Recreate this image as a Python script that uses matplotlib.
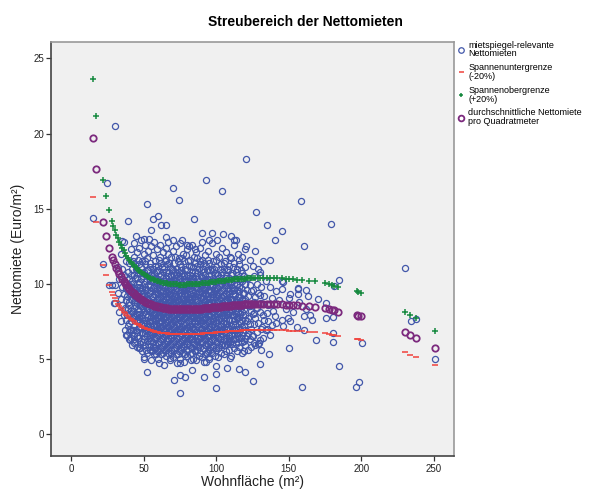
import matplotlib
matplotlib.use("Agg")
import matplotlib.pyplot as plt

# --- data ---

# areas (m²) that have a mean value, and the mean rent per m² at each
mean_area = [15, 17, 22, 24, 26, 28, 29, 30, 31, 32, 33, 34, 35, 36, 37, 38, 39,
             40, 41, 42, 43, 44, 45, 46, 47, 48, 49, 50, 51, 52, 53, 54, 55, 56,
             57, 58, 59, 60, 61, 62, 63, 64, 65, 66, 67, 68, 69, 70, 71, 72, 73,
             74, 75, 76, 77, 78, 79, 80, 81, 82, 83, 84, 85, 86, 87, 88, 89, 90,
             91, 92, 93, 94, 95, 96, 97, 98, 99, 100, 101, 102, 103, 104, 105,
             106, 107, 108, 109, 110, 111, 112, 113, 114, 115, 116, 117, 118,
             119, 120, 121, 122, 123, 124, 125, 127, 129, 130, 132, 135, 137,
             140, 142, 145, 148, 150, 153, 156, 159, 164, 168, 175, 178, 180,
             181, 184, 197, 198, 200, 230, 234, 238, 251]
mean_rent = [19.7, 17.65, 14.1, 13.2, 12.4, 11.8, 11.55, 11.3, 11.05, 10.85,
             10.65, 10.5, 10.33, 10.18, 10.04, 9.9, 9.78, 9.66, 9.55, 9.45, 9.36,
             9.27, 9.19, 9.11, 9.04, 8.97, 8.91, 8.85, 8.8, 8.75, 8.7, 8.66, 8.62,
             8.58, 8.55, 8.52, 8.49, 8.46, 8.44, 8.42, 8.4, 8.38, 8.37, 8.36, 8.34,
             8.33, 8.32, 8.31, 8.31, 8.3, 8.3, 8.29, 8.29, 8.29, 8.29, 8.29, 8.29,
             8.3, 8.3, 8.3, 8.31, 8.31, 8.32, 8.32, 8.33, 8.34, 8.34, 8.35, 8.36,
             8.37, 8.38, 8.39, 8.4, 8.41, 8.42, 8.43, 8.44, 8.45, 8.46, 8.47, 8.48,
             8.49, 8.5, 8.51, 8.52, 8.53, 8.54, 8.55, 8.56, 8.57, 8.57, 8.58, 8.59,
             8.6, 8.6, 8.61, 8.62, 8.62, 8.63, 8.63, 8.64, 8.64, 8.65, 8.65, 8.66,
             8.66, 8.66, 8.66, 8.66, 8.65, 8.64, 8.63, 8.61, 8.6, 8.58, 8.56, 8.54,
             8.5, 8.46, 8.38, 8.3, 8.26, 8.22, 8.15, 7.92, 7.88, 7.83, 6.78, 6.6,
             6.42, 5.72]

# single flats away from the dense cloud
outer_area = [15.2, 21.8, 24.4, 30.3, 25.7, 29.2, 35, 39.1, 44.4, 50.3, 53.3,
              52.2, 55.2, 56.3, 60, 61.9, 65.5, 65, 66.7, 70.1, 70, 74, 76.6,
              79.8, 81.4, 84.4, 85.3, 90.3, 90.3, 93.1, 94.7, 97.2, 100.5, 104.1,
              104.4, 110.1, 112.4, 113.3, 120.2, 120.2, 127.1, 135, 137.2, 130.3,
              140.2, 145.3, 158.4, 160.2, 179.3, 230.3, 184.4, 145.3, 156.3,
              180.9, 130.3, 138.4, 145.3, 156.3, 156.3, 163.2, 150.3, 175.4,
              180.5, 175.9, 164.4, 160.2, 149.4, 145.3, 140.7, 135, 125.7, 138.4,
              155.6, 160.2, 131.5, 135, 124.6, 130.3, 129.7, 125.7, 131, 136.6,
              150.3, 168.5, 180.5, 180.5, 200.5, 234.5, 237.7, 250.6, 184.8,
              130.3, 125.3, 159.1, 196.3, 198.4, 75.2, 100, 52.2, 70.6, 74.7,
              78.6, 83.2, 91.3, 100, 107.4, 115.4, 120, 100, 49.9, 60.2, 68.3,
              75.2, 82.5, 91.3, 94.7, 109.7, 118.8, 55.6, 38.4, 40.2, 43, 47.6]
outer_rent = [14.4, 11.3, 16.7, 20.5, 9.93, 8.71, 12.85, 14.2, 13.2, 13.0, 13.0,
              15.3, 13.6, 14.3, 14.5, 13.9, 13.9, 13.1, 12.75, 16.4, 12.9, 15.6,
              12.9, 12.6, 12.5, 14.3, 12.3, 13.35, 12.75, 16.9, 12.9, 13.4, 12.9,
              16.2, 13.3, 13.2, 12.9, 12.9, 18.3, 12.5, 14.8, 13.9, 11.6, 10.8,
              12.9, 13.5, 15.5, 12.5, 14.0, 11.07, 10.27, 10.15, 9.7, 9.87, 9.27,
              9.04, 9.64, 9.64, 9.3, 9.2, 9.04, 8.75, 7.8, 7.7, 7.93, 7.87, 7.7,
              7.6, 7.87, 8.04, 8.04, 7.27, 7.1, 6.9, 7.1, 7.0, 6.5, 6.27, 6.04,
              6.04, 5.6, 5.33, 5.73, 6.27, 6.7, 6.15, 6.04, 7.55, 7.64, 5.02,
              4.53, 4.64, 3.53, 3.13, 3.11, 3.44, 2.71, 3.04, 4.15, 3.6, 3.93,
              3.82, 4.27, 3.78, 4.0, 4.38, 4.31, 4.15, 4.53, 4.98, 4.7, 5.04,
              4.7, 4.93, 4.82, 5.1, 5.04, 5.49, 5.6, 6.6, 6.27, 6.04, 5.71]

# dense cloud: area -> rents observed at that area (estimated)
core_columns = [
    (28, [9.9]), (30, [8.7, 9.9]), (32, [9.4, 11.1]), (33, [8.1, 10.3]),
    (34, [7.5, 9.0, 12.0]), (35, [8.6, 9.8, 11.0]), (36, [7.9, 9.3, 10.6, 12.8]),
    (37, [6.9, 8.4, 10.1]), (38, [6.6, 7.6, 8.9, 9.7, 11.5]),
    (39, [7.2, 8.3, 9.5, 10.8]),
    (40, [6.3, 7.4, 8.6, 9.9, 11.4]), (41, [6.9, 8.2, 9.3, 10.6, 12.3]),
    (42, [5.9, 7.7, 8.9, 10.2, 11.0]), (43, [6.6, 7.2, 8.4, 9.6, 11.8, 12.7]),
    (44, [6.1, 7.9, 9.1, 10.4, 11.3]), (45, [5.8, 6.8, 8.0, 8.7, 9.8, 10.9, 12.1]),
    (46, [6.4, 7.5, 8.3, 9.4, 10.7, 11.6]), (47, [5.7, 7.0, 7.8, 9.0, 10.1, 12.4]),
    (48, [6.2, 7.3, 8.5, 9.5, 10.3, 11.1, 12.9]), (49, [5.5, 6.7, 7.7, 8.8, 9.7, 11.5]),
    (50, [5.1, 6.3, 7.2, 8.1, 9.2, 10.0, 10.8, 12.0]),
    (51, [5.9, 6.9, 7.6, 8.6, 9.6, 11.3, 12.6]),
    (52, [5.4, 6.5, 7.4, 8.3, 9.0, 10.5, 11.7]),
    (53, [6.0, 7.1, 7.9, 8.9, 9.9, 10.9, 12.2]),
    (54, [5.6, 6.6, 7.5, 8.2, 9.4, 10.2, 11.4]),
    (55, [4.9, 6.2, 7.0, 7.8, 8.7, 9.5, 10.6, 12.5]),
    (56, [5.8, 6.8, 7.7, 8.5, 9.1, 10.1, 11.0, 11.9]),
    (57, [5.3, 6.4, 7.3, 8.0, 8.8, 9.8, 10.7, 12.8]),
    (58, [6.0, 6.9, 7.6, 8.4, 9.3, 10.4, 11.5]),
    (59, [5.5, 6.6, 7.2, 8.1, 9.0, 9.7, 10.9, 12.3]),
    (60, [5.0, 6.1, 7.0, 7.9, 8.6, 9.4, 10.3, 11.2]),
    (61, [5.7, 6.7, 7.5, 8.3, 9.2, 10.0, 11.8, 12.6]),
    (62, [5.3, 6.3, 7.1, 7.8, 8.7, 9.6, 10.6, 11.4]),
    (63, [5.9, 6.9, 7.7, 8.5, 9.0, 9.9, 10.8, 12.1]),
    (64, [4.6, 5.6, 6.5, 7.3, 8.2, 8.9, 9.7, 11.0]),
    (65, [5.2, 6.2, 7.0, 7.8, 8.6, 9.5, 10.4, 11.6, 12.4]),
    (66, [5.8, 6.7, 7.5, 8.3, 9.1, 10.1, 11.3]),
    (67, [5.4, 6.4, 7.2, 8.0, 8.8, 9.8, 10.7, 12.0]),
    (68, [4.9, 6.0, 6.9, 7.7, 8.5, 9.3, 10.2, 11.1]),
    (69, [5.6, 6.6, 7.4, 8.1, 8.9, 9.6, 10.5, 11.8]),
    (70, [5.1, 6.2, 7.1, 7.9, 8.7, 9.4, 10.0, 10.9, 12.2]),
    (71, [5.7, 6.8, 7.6, 8.4, 9.2, 10.3, 11.4]),
    (72, [5.3, 6.4, 7.3, 8.1, 8.8, 9.7, 10.6, 12.5]),
    (73, [4.7, 5.9, 6.9, 7.7, 8.5, 9.1, 10.1, 11.0]),
    (74, [5.5, 6.5, 7.2, 8.0, 8.9, 9.9, 10.8, 11.7]),
    (75, [5.0, 6.1, 7.0, 7.8, 8.6, 9.4, 10.4, 11.3, 12.7]),
    (76, [5.8, 6.7, 7.5, 8.3, 9.2, 10.0, 11.1]),
    (77, [5.4, 6.3, 7.3, 8.2, 9.0, 9.8, 10.7, 12.0]),
    (78, [4.8, 6.0, 6.9, 7.7, 8.5, 9.5, 10.5, 11.5]),
    (79, [5.6, 6.6, 7.4, 8.1, 8.8, 9.6, 10.2, 11.9]),
    (80, [5.2, 6.2, 7.1, 7.9, 8.7, 9.3, 10.1, 10.9, 12.3]),
    (81, [5.9, 6.8, 7.6, 8.4, 9.1, 10.0, 11.2]),
    (82, [5.3, 6.4, 7.2, 8.0, 8.9, 9.7, 10.6, 11.6]),
    (83, [5.7, 6.5, 7.4, 8.2, 9.0, 9.9, 10.8, 12.6]),
    (84, [5.0, 6.1, 7.0, 7.8, 8.6, 9.4, 10.3, 11.1]),
    (85, [5.5, 6.6, 7.5, 8.3, 9.2, 10.1, 11.4]),
    (86, [4.9, 5.9, 6.8, 7.7, 8.5, 9.3, 10.5, 12.1]),
    (87, [5.6, 6.5, 7.3, 8.1, 8.9, 9.8, 10.7, 11.7]),
    (88, [5.2, 6.3, 7.1, 7.9, 8.7, 9.5, 10.2, 11.0]),
    (89, [5.8, 6.7, 7.6, 8.4, 9.1, 10.0, 11.3, 12.4]),
    (90, [5.1, 6.2, 7.0, 7.8, 8.6, 9.4, 10.4, 11.6]),
    (91, [5.7, 6.6, 7.4, 8.2, 9.0, 9.7, 10.8]),
    (92, [5.3, 6.4, 7.2, 8.0, 8.8, 9.6, 10.6, 11.9]),
    (93, [4.8, 5.9, 6.9, 7.7, 8.5, 9.3, 10.1, 11.2]),
    (94, [5.5, 6.5, 7.5, 8.3, 9.2, 10.3, 12.2]),
    (95, [5.0, 6.1, 7.1, 7.9, 8.7, 9.5, 10.5, 11.4]),
    (96, [5.8, 6.8, 7.6, 8.4, 9.0, 9.9, 10.9]),
    (97, [5.4, 6.3, 7.3, 8.1, 8.9, 9.8, 11.0, 12.7]),
    (98, [5.9, 6.7, 7.5, 8.2, 9.1, 10.2, 11.5]),
    (99, [5.2, 6.2, 7.0, 7.8, 8.6, 9.6, 10.7]),
    (100, [5.6, 6.6, 7.4, 8.3, 9.3, 10.1, 11.1, 12.0]),
    (101, [5.1, 6.4, 7.2, 8.0, 8.8, 9.7, 10.6]),
    (102, [5.8, 6.9, 7.7, 8.5, 9.4, 10.4, 11.8]),
    (103, [5.4, 6.5, 7.3, 8.2, 9.1, 10.0, 11.3]),
    (104, [6.0, 7.0, 7.9, 8.7, 9.6, 10.8, 12.4]),
    (105, [5.3, 6.3, 7.5, 8.4, 9.2, 10.2, 11.0]),
    (106, [5.9, 6.8, 7.8, 8.9, 9.9, 11.5]),
    (107, [5.5, 6.6, 7.4, 8.1, 9.4, 10.5, 12.1]),
    (108, [6.1, 7.1, 8.0, 8.8, 9.7, 10.9]),
    (109, [5.6, 6.4, 7.6, 8.6, 9.5, 11.2]),
    (110, [5.2, 6.2, 7.2, 8.3, 9.0, 10.1, 11.7]),
    (111, [6.0, 6.9, 7.9, 8.9, 9.8, 10.7]),
    (112, [5.7, 6.7, 7.5, 8.5, 9.6, 11.4, 12.6]),
    (113, [6.3, 7.3, 8.2, 9.3, 10.3]),
    (114, [5.5, 6.5, 7.7, 8.8, 9.9, 11.0]),
    (115, [6.1, 7.0, 8.1, 9.1, 10.6, 12.0]),
    (116, [5.8, 6.8, 7.8, 8.7, 9.5, 11.3]),
    (117, [6.4, 7.4, 8.4, 9.7, 10.9]),
    (118, [5.4, 6.6, 7.6, 8.9, 10.2, 11.8]),
    (119, [6.2, 7.2, 8.3, 9.4, 10.5]),
    (120, [5.9, 6.9, 7.9, 9.0, 10.0, 11.1, 12.3]),
    (121, [6.5, 7.5, 8.6, 9.6]), (122, [5.6, 6.7, 7.7, 9.2, 10.4]),
    (123, [6.3, 7.3, 8.5, 9.9, 11.6]), (124, [5.8, 7.0, 8.2, 9.5]),
    (125, [6.5, 8.0, 9.6, 11.2]), (126, [7.3, 8.8, 10.5]),
    (127, [5.9, 7.7, 9.1, 12.2]), (128, [6.8, 8.4, 10.0]),
    (129, [6.0, 7.4, 9.4, 11.0]), (130, [8.1, 10.6]), (131, [7.0, 8.7, 9.8]),
    (132, [6.4, 7.9, 11.5]), (133, [7.6, 9.2]), (134, [6.9, 10.2]),
    (136, [7.5, 8.6]), (137, [9.8, 6.6]), (139, [8.2]), (141, [7.4, 9.5]),
    (143, [8.9]), (146, [7.2, 10.1]), (148, [8.3]), (151, [9.3, 7.5]),
    (153, [8.1]), (157, [8.8]), (162, [8.3, 9.6]), (166, [7.6]), (170, [9.0]),
]

# flats with half-metre areas inside the dense cloud (estimated)
core_columns_half = [
    (38.5, [7.9, 9.2]), (39.5, [6.8, 8.8, 10.3]), (40.5, [7.0, 8.0, 9.3]),
    (41.5, [6.4, 7.5, 9.0, 10.0]), (42.5, [6.9, 8.2, 9.7, 11.5]),
    (43.5, [6.3, 7.8, 8.8, 10.6]),
    (44.5, [6.9, 8.5, 9.6, 11.0]), (45.5, [6.5, 7.6, 9.1, 10.4]),
    (46.5, [7.1, 8.0, 8.9, 10.0, 11.3]), (47.5, [6.0, 7.5, 8.6, 9.8]),
    (48.5, [6.8, 7.9, 9.2, 10.7]), (49.5, [6.1, 7.4, 8.4, 9.4, 10.5]),
    (50.5, [6.7, 7.6, 8.9, 9.8, 11.5]), (51.5, [5.6, 7.0, 8.0, 9.1, 10.2]),
    (52.5, [6.2, 7.8, 8.7, 9.6, 10.9]), (53.5, [5.8, 6.7, 7.5, 8.4, 9.4, 10.4]),
    (54.5, [6.4, 7.2, 8.6, 9.9, 11.1]), (55.5, [5.5, 6.6, 7.5, 8.3, 9.2, 10.2]),
    (56.5, [6.1, 7.2, 8.0, 8.9, 9.7, 10.5]), (57.5, [5.7, 6.8, 7.7, 8.6, 9.5, 11.2]),
    (58.5, [5.3, 6.4, 7.3, 8.0, 8.8, 9.9, 10.8]),
    (59.5, [6.0, 6.9, 7.7, 8.5, 9.3, 10.2]),
    (60.5, [5.5, 6.6, 7.4, 8.2, 9.0, 9.8, 11.6]),
    (61.5, [6.2, 7.1, 7.9, 8.7, 9.5, 10.5]),
    (62.5, [5.8, 6.7, 7.5, 8.3, 9.2, 10.1, 11.1]),
    (63.5, [5.4, 6.4, 7.2, 8.0, 8.8, 9.5, 10.4]),
    (64.5, [6.0, 6.9, 7.8, 8.6, 9.3, 10.2, 11.5]),
    (65.5, [5.6, 6.6, 7.4, 8.2, 9.0, 9.9, 10.8]),
    (66.5, [6.2, 7.1, 7.9, 8.7, 9.5, 10.5]),
    (67.5, [5.8, 6.8, 7.6, 8.4, 9.3, 10.2, 11.4]),
    (68.5, [5.4, 6.4, 7.3, 8.1, 8.9, 9.7, 10.6]),
    (69.5, [6.0, 6.9, 7.8, 8.5, 9.2, 10.1, 11.0]),
    (70.5, [5.6, 6.6, 7.5, 8.3, 9.0, 9.8, 10.6]),
    (71.5, [6.2, 7.1, 7.9, 8.8, 9.6, 10.8, 11.8]),
    (72.5, [5.8, 6.8, 7.7, 8.5, 9.3, 10.2]),
    (73.5, [5.3, 6.4, 7.4, 8.2, 8.9, 9.6, 10.5, 11.5]),
    (74.5, [6.0, 6.9, 7.7, 8.5, 9.4, 10.3]),
    (75.5, [5.6, 6.6, 7.5, 8.2, 9.0, 9.8, 10.9]),
    (76.5, [6.2, 7.1, 7.9, 8.7, 9.6, 10.5, 11.7]),
    (77.5, [5.8, 6.8, 7.7, 8.5, 9.3, 10.3]),
    (78.5, [5.3, 6.4, 7.3, 8.1, 8.9, 9.8, 11.0]),
    (79.5, [6.0, 6.9, 7.8, 8.6, 9.4, 10.6]),
    (80.5, [5.6, 6.6, 7.5, 8.3, 9.0, 9.8, 11.5]),
    (81.5, [6.3, 7.2, 8.0, 8.8, 9.5, 10.4]),
    (82.5, [5.8, 6.8, 7.7, 8.5, 9.3, 10.2, 11.2]),
    (83.5, [5.4, 6.3, 7.1, 7.9, 8.7, 9.6, 10.5]),
    (84.5, [6.0, 6.9, 7.8, 8.5, 9.1, 9.9, 11.8]),
    (85.5, [5.6, 6.6, 7.4, 8.2, 9.0, 9.8, 10.8]),
    (86.5, [6.2, 7.2, 8.0, 8.9, 9.7, 11.2]),
    (87.5, [5.8, 6.8, 7.7, 8.5, 9.3, 10.3]),
    (88.5, [5.4, 6.4, 7.4, 8.2, 9.1, 9.9, 11.5]),
    (89.5, [6.1, 7.0, 7.9, 8.7, 9.5, 10.5]),
    (90.5, [5.7, 6.7, 7.6, 8.4, 9.2, 10.1, 11.0]),
    (91.5, [6.3, 7.2, 8.0, 8.8, 9.6, 11.4]),
    (92.5, [5.9, 6.8, 7.7, 8.5, 9.3, 10.3]),
    (93.5, [5.4, 6.5, 7.4, 8.2, 9.0, 9.8, 10.9]),
    (94.5, [6.0, 7.0, 7.9, 8.7, 9.6, 11.6]),
    (95.5, [5.6, 6.6, 7.5, 8.3, 9.1, 10.0]),
    (96.5, [6.2, 7.2, 8.0, 8.8, 9.5, 10.6]),
    (97.5, [5.8, 6.8, 7.7, 8.5, 9.3, 10.4]),
    (98.5, [6.3, 7.1, 7.9, 8.7, 9.6, 11.0]),
    (99.5, [5.7, 6.8, 7.6, 8.4, 9.1, 10.2, 11.6]),
    (100.5, [6.1, 7.0, 7.8, 8.7, 9.7, 10.6]),
    (101.5, [5.7, 6.8, 7.6, 8.4, 9.2, 10.2]),
    (102.5, [6.3, 7.2, 8.1, 9.0, 9.9, 11.0]),
    (103.5, [5.9, 6.9, 7.7, 8.6, 9.5, 10.6]),
    (104.5, [6.5, 7.4, 8.3, 9.2, 10.1]),
    (105.5, [5.9, 6.8, 7.9, 8.8, 9.7, 11.4]),
    (106.5, [6.4, 7.3, 8.3, 9.3, 10.4]),
    (107.5, [6.0, 7.0, 7.9, 8.9, 9.9, 11.0]),
    (108.5, [6.6, 7.6, 8.5, 9.3, 10.4]),
    (109.5, [6.1, 7.0, 8.1, 9.0, 10.0, 11.8]),
    (110.5, [6.6, 7.6, 8.6, 9.5, 10.6]),
    (111.5, [6.3, 7.3, 8.4, 9.3, 11.1]),
    (112.5, [6.9, 7.9, 8.9, 10.0]),
    (113.5, [6.0, 7.0, 8.0, 9.0, 10.8]),
    (114.5, [6.7, 7.8, 8.6, 9.6]),
    (115.5, [6.4, 7.5, 8.5, 9.8, 11.6]),
    (116.5, [7.0, 8.0, 9.1, 10.3]),
    (117.5, [6.1, 7.1, 8.1, 9.0, 10.7]),
    (118.5, [6.8, 7.9, 9.4]),
    (119.5, [6.4, 7.6, 8.7, 10.0]),
]

# the legend defines the band as mean -20% / +20%
band_share = 0.20

x_ticks = [0, 50, 100, 150, 200, 250]
y_ticks = [0, 5, 10, 15, 20, 25]

# --- build the point lists ---
columns = core_columns + core_columns_half
area_all = outer_area + [a for a, rents in columns for _ in rents]
rent_all = outer_rent + [r for a, rents in columns for r in rents]
lower = [m * (1 - band_share) for m in mean_rent]
upper = [m * (1 + band_share) for m in mean_rent]

plt.rcParams['font.family'] = ['Liberation Sans', 'DejaVu Sans']

fig = plt.figure(figsize=(5.96, 4.91), dpi=100)
ax = fig.add_axes([0.0864, 0.0713, 0.6753, 0.8432])
ax.set_facecolor('#f0f0f0')

blue = '#4257aa'
red = '#f0423c'
green = '#16893f'
purple = '#7c2a7e'

ax.plot(area_all, rent_all, linestyle='none', marker='o', markersize=4.4,
        markerfacecolor='none', markeredgecolor=blue, markeredgewidth=0.9,
        label='mietspiegel-relevante\nNettomieten')
ax.plot(mean_area, lower, linestyle='none', marker='_', markersize=4,
        markeredgecolor=red, markeredgewidth=1.1,
        label='Spannenuntergrenze\n(-20%)')
ax.plot(mean_area, upper, linestyle='none', marker='+', markersize=3.8,
        markeredgecolor=green, markeredgewidth=1.1,
        label='Spannenobergrenze\n(+20%)')
ax.plot(mean_area, mean_rent, linestyle='none', marker='o', markersize=4.6,
        markerfacecolor='none', markeredgecolor=purple, markeredgewidth=1.3,
        label='durchschnittliche Nettomiete\npro Quadratmeter')

ax.set_xlim(-13.7, 264)
ax.set_ylim(-1.47, 26.1)
ax.set_xticks(x_ticks)
ax.set_yticks(y_ticks)
ax.tick_params(direction='out', length=3.5, width=0.9, color='#333333',
               labelsize=7, labelcolor='#222222', pad=2)

for side in ['left', 'bottom']:
    ax.spines[side].set_color('#444444')
    ax.spines[side].set_linewidth(1.2)
for side in ['top', 'right']:
    ax.spines[side].set_color('#999999')
    ax.spines[side].set_linewidth(1.2)

ax.set_xlabel('Wohnfläche (m²)', fontsize=10, color='#222222', labelpad=1)
ax.set_ylabel('Nettomiete (Euro/m²)', fontsize=10, color='#222222', labelpad=6)
fig.text(0.513, 0.955, 'Streubereich der Nettomieten', ha='center', va='center',
         fontsize=10, fontweight='bold')

leg = ax.legend(loc='upper left', bbox_to_anchor=(1.0, 1.012), frameon=False,
                fontsize=6.5, handlelength=0.7, handletextpad=0.5,
                labelspacing=0.55, borderaxespad=0.2, borderpad=0.2,
                markerscale=0.9)
for t in leg.get_texts():
    t.set_linespacing(0.95)

fig.savefig('out.png', dpi=100)
